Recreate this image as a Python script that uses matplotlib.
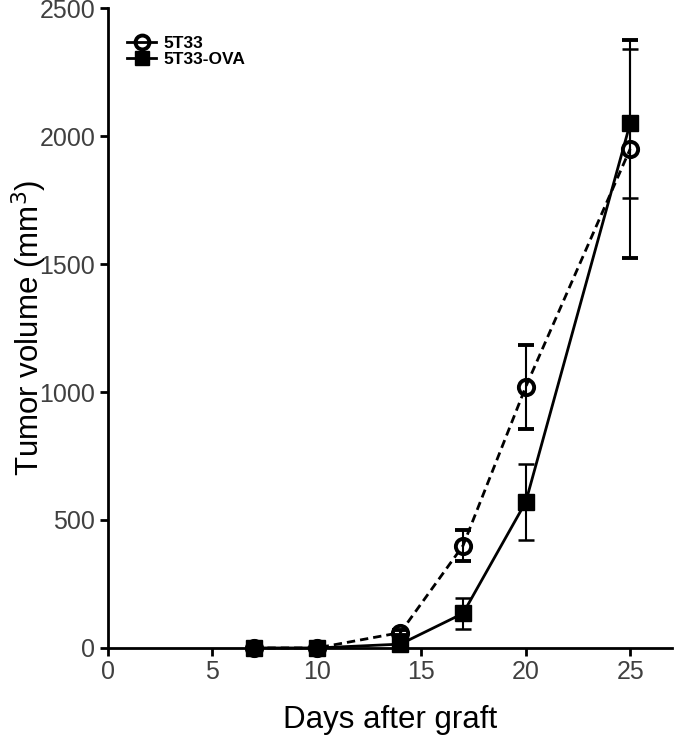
import matplotlib.pyplot as plt
from matplotlib.lines import Line2D

plt.rcParams['font.family'] = ['Liberation Sans', 'DejaVu Sans']

days = [7, 10, 14, 17, 20, 25]
vol_5t33 = [0, 0, 60, 400, 1020, 1950]
err_5t33 = [0, 0, 10, 60, 165, 425]
vol_ova = [0, 0, 15, 135, 570, 2050]
err_ova = [0, 0, 5, 60, 150, 290]


def main():
    fig = plt.figure(figsize=(6.74, 7.38), dpi=100)
    ax = fig.add_axes([0.160, 0.122, 0.837, 0.867])

    c1 = ax.errorbar(days, vol_5t33, yerr=err_5t33, fmt='o', linestyle='--', color='black',
                     mfc='none', mec='black', mew=2.8, ms=11, lw=2, dashes=(3, 1.8),
                     capsize=6, capthick=1.8, elinewidth=1.5, zorder=3)
    c2 = ax.errorbar(days, vol_ova, yerr=err_ova, fmt='s', linestyle='-', color='black',
                     ms=11.5, lw=2, capsize=6, capthick=1.8, elinewidth=1.5, zorder=4)
    # markers sitting on zero should not be cut by the axes
    for cont in (c1, c2):
        for art in cont.lines:
            if art is None:
                continue
            if isinstance(art, tuple):
                for a in art:
                    a.set_clip_on(False)
            else:
                art.set_clip_on(False)

    ax.set_xlim(0, 27)
    ax.set_ylim(0, 2500)
    ax.set_xticks([0, 5, 10, 15, 20, 25])
    ax.set_yticks([0, 500, 1000, 1500, 2000, 2500])

    for s in ['top', 'right']:
        ax.spines[s].set_visible(False)
    for s in ['left', 'bottom']:
        ax.spines[s].set_linewidth(2)
    ax.tick_params(width=2, length=6, labelsize=18, labelcolor='#404040', direction='out', pad=3)

    ax.set_xlabel('Days after graft', fontsize=22.5)
    ax.xaxis.set_label_coords(0.5, -0.125, transform=ax.transAxes)
    ax.xaxis.label.set_va('baseline')
    ax.set_ylabel('Tumor volume (mm$^3$)', fontsize=22.5)
    ax.yaxis.set_label_coords(-0.14, 0.5, transform=ax.transAxes)
    ax.yaxis.label.set_va('center')

    # legend without error bars
    h1 = Line2D([], [], color='black', marker='o', mfc='none', mec='black', mew=2.8, ms=10, lw=2)
    h2 = Line2D([], [], color='black', marker='s', ms=10.5, lw=2)
    ax.legend([h1, h2], ['5T33', '5T33-OVA'], loc='upper left', bbox_to_anchor=(0.012, 0.975),
              frameon=False, prop={'weight': 'bold', 'size': 12.5}, handlelength=1.7,
              handletextpad=0.4, labelspacing=0.05, borderaxespad=0.3)

    fig.savefig('out.png', dpi=100)


if __name__ == "__main__":
    main()
